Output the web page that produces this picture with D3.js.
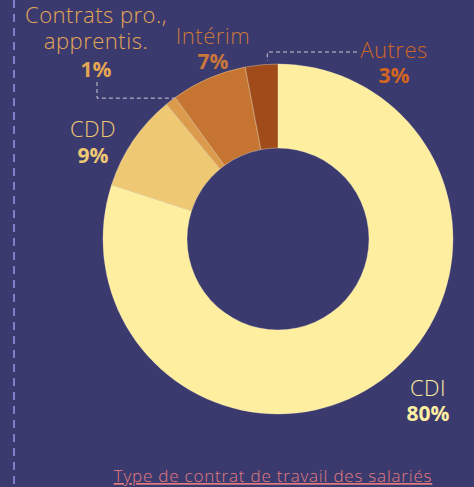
<!DOCTYPE html>
<html>
<head>
<meta charset="utf-8">
<script src="https://cdn.jsdelivr.net/npm/d3@7"></script>
<style>
  html, body { margin: 0; padding: 0; background: #3b3a6f; }
  svg { display: block; }
  text { font-family: "Open Sans", "DejaVu Sans", sans-serif; }
</style>
</head>
<body>
<div id="chart"></div>
<script>
// contract types of employees, share in %
const categories = ['CDI', 'CDD', 'Contrats pro., apprentis.', 'Intérim', 'Autres'];
const values = [80, 9, 1, 7, 3];
const valueLabels = ['80%', '9%', '1%', '7%', '3%'];
const labelLines = [['CDI'], ['CDD'], ['Contrats pro.,', 'apprentis.'], ['Intérim'], ['Autres']];
const colors = ['#feee9f', '#efc873', '#dc9b4c', '#c57531', '#a14a1a'];
const textColors = ['#feee9f', '#efc873', '#e4a653', '#c9773a', '#d2651f'];
const title = 'Type de contrat de travail des salariés';

const W = 474, H = 487;
const cx = 278, cy = 239, R = 175, r0 = 91;

const svg = d3.select('#chart').append('svg')
  .attr('width', W).attr('height', H);

svg.append('rect').attr('width', W).attr('height', H).attr('fill', '#3b3a6f');

// left dashed rule
svg.append('line')
  .attr('x1', 14).attr('x2', 14).attr('y1', 0).attr('y2', H)
  .attr('stroke', '#7f80c9').attr('stroke-width', 2)
  .attr('stroke-dasharray', '8,6');

const data = categories.map((c, i) => ({ name: c, value: values[i], i }));

const pie = d3.pie().value(d => d.value).sort(null);
const arcs = pie(data);
const arc = d3.arc().innerRadius(r0).outerRadius(R);

const g = svg.append('g').attr('transform', `translate(${cx},${cy})`);
g.selectAll('path')
  .data(arcs)
  .enter().append('path')
  .attr('d', arc)
  .attr('fill', d => colors[d.data.i])
  .attr('stroke', 'rgba(255,240,200,0.45)')
  .attr('stroke-width', 0.8);

// label anchor positions (center x, baseline of first line, gap to the % line)
const labelPos = [
  { x: 428, y: 396, pct: 24.5 },
  { x: 93, y: 137, pct: 26 },
  { x: 96, y: 23, pct: 28 },
  { x: 213, y: 44, pct: 24.5 },
  { x: 394, y: 58, pct: 25 }
];
const lineGap = 25.5;

// one text per label, lines as tspans
const labels = svg.selectAll('text.lbl')
  .data(arcs)
  .enter().append('text').attr('class', 'lbl')
  .attr('text-anchor', 'middle')
  .attr('fill', d => textColors[d.data.i]);

labels.each(function(d) {
  const i = d.data.i;
  const sel = d3.select(this);
  const p = labelPos[i];
  const n = labelLines[i].length;
  labelLines[i].forEach((t, k) => {
    sel.append('tspan')
      .attr('x', p.x).attr('y', p.y + k * lineGap)
      .attr('font-size', 22)
      .attr('font-weight', 300)
      .attr('letter-spacing', 0.5)
      .text(t);
  });
  sel.append('tspan')
    .attr('x', p.x).attr('y', p.y + (n - 1) * lineGap + p.pct)
    .attr('font-size', 21)
    .attr('font-weight', 'bold')
    .text(valueLabels[i]);
});

// leader lines for the small slices
function edgePoint(d, rad) {
  const a = (d.startAngle + d.endAngle) / 2;
  return [cx + rad * Math.sin(a), cy - rad * Math.cos(a)];
}
const leader = { stroke: '#c9c9d6', width: 1, dash: '4,3' };

const pPro = edgePoint(arcs[2], R + 2);
svg.append('path')
  .attr('d', `M${97},${82} V${pPro[1] - 1} H${pPro[0] + 5}`)
  .attr('fill', 'none').attr('stroke', leader.stroke)
  .attr('stroke-width', leader.width).attr('stroke-dasharray', leader.dash);

const pAut = edgePoint(arcs[4], R + 2);
svg.append('path')
  .attr('d', `M${357},${52} H${pAut[0] + 6} V${pAut[1] - 2}`)
  .attr('fill', 'none').attr('stroke', leader.stroke)
  .attr('stroke-width', leader.width).attr('stroke-dasharray', leader.dash);

// title, underlined
svg.append('text')
  .attr('x', 273).attr('y', 482)
  .attr('text-anchor', 'middle')
  .attr('fill', '#e47c7c')
  .attr('font-size', 17)
  .attr('font-weight', 300)
  .attr('letter-spacing', 0.8)
  .attr('text-decoration', 'underline')
  .text(title);
</script>
</body>
</html>
